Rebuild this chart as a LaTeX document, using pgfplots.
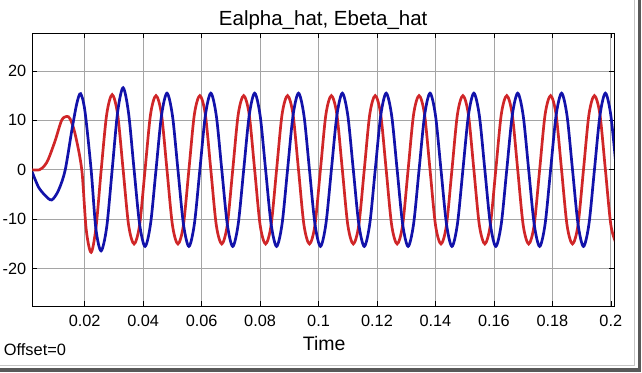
\documentclass[border=0pt]{standalone}
\usepackage{pgfplots}
\pgfplotsset{compat=1.18}
\usepackage{fontspec}
\setmainfont{Liberation Sans}
\definecolor{sred}{RGB}{208,38,40}
\definecolor{sblue}{RGB}{18,18,170}
\definecolor{gridc}{RGB}{165,165,165}
\begin{document}
\begin{tikzpicture}
\fill[white] (0pt,0pt) rectangle (642pt,372pt);
% frame shadow
\draw[gray!45, line width=0.8pt] (634.5pt,372pt) -- (634.5pt,6.5pt) -- (0pt,6.5pt);
\fill[black!65] (637.5pt,0pt) rectangle (641pt,372pt);
\fill[black!65] (0pt,0.5pt) rectangle (641pt,4pt);
\begin{axis}[
  at={(32pt,66pt)}, anchor=south west,
  scale only axis, width=582pt, height=273pt,
  xmin=0.0021, xmax=0.2011, ymin=-27.6, ymax=27.6,
  xtick={0.02,0.04,0.06,0.08,0.1,0.12,0.14,0.16,0.18,0.2},
  xticklabels={0.02,0.04,0.06,0.08,0.1,0.12,0.14,0.16,0.18,0.2},
  ytick={-20,-10,0,10,20},
  yticklabels={-20,-10,0,10,20},
  tick align=inside, major tick length=5pt,
  tick style={black, line width=0.6pt},
  grid=major, major grid style={gridc, line width=0.7pt},
  axis line style={black, line width=0.9pt},
  ticklabel style={font=\fontsize{16.3}{18}\selectfont},
  xticklabel style={inner sep=0pt, anchor=north, yshift=-9pt},
  yticklabel style={inner sep=0pt, anchor=east, xshift=-6pt},
  /pgf/number format/assume math mode=true,
  clip=true,
]
\addplot[sred, line width=2.7pt, smooth] coordinates {
(0.002,0)(0.0045,0)(0.0062,0.8)(0.0076,2.2)(0.0099,5.9)(0.0121,10)(0.0138,10.8)(0.015,10.3)(0.0167,7.3)(0.019,0)(0.0205,-12)(0.0222,-16.7)(0.0239,-11.5)(0.02565,0)(0.027525,11.2)
(0.0294,15.2)(0.031275,11.2)(0.03315,0)(0.035025,-11.2)(0.0369,-15)(0.038775,-11.2)(0.04065,0)(0.042525,11.2)
(0.0444,15)(0.046275,11.2)(0.04815,0)(0.050025,-11.2)(0.0519,-15)(0.053775,-11.2)(0.05565,0)(0.057525,11.2)
(0.0594,15)(0.061275,11.2)(0.06315,0)(0.065025,-11.2)(0.0669,-15)(0.068775,-11.2)(0.07065,0)(0.072525,11.2)
(0.0744,15)(0.076275,11.2)(0.07815,0)(0.080025,-11.2)(0.0819,-15)(0.083775,-11.2)(0.08565,0)(0.087525,11.2)
(0.0894,15)(0.091275,11.2)(0.09315,0)(0.095025,-11.2)(0.0969,-15)(0.098775,-11.2)(0.10065,0)(0.102525,11.2)
(0.1044,15)(0.106275,11.2)(0.10815,0)(0.110025,-11.2)(0.1119,-15)(0.113775,-11.2)(0.11565,0)(0.117525,11.2)
(0.1194,15)(0.121275,11.2)(0.12315,0)(0.125025,-11.2)(0.1269,-15)(0.128775,-11.2)(0.13065,0)(0.132525,11.2)
(0.1344,15)(0.136275,11.2)(0.13815,0)(0.140025,-11.2)(0.1419,-15)(0.143775,-11.2)(0.14565,0)(0.147525,11.2)
(0.1494,15)(0.151275,11.2)(0.15315,0)(0.155025,-11.2)(0.1569,-15)(0.158775,-11.2)(0.16065,0)(0.162525,11.2)
(0.1644,15)(0.166275,11.2)(0.16815,0)(0.170025,-11.2)(0.1719,-15)(0.173775,-11.2)(0.17565,0)(0.177525,11.2)
(0.1794,15)(0.181275,11.2)(0.18315,0)(0.185025,-11.2)(0.1869,-15)(0.188775,-11.2)(0.19065,0)(0.192525,11.2)
(0.1944,15)(0.196275,11.2)(0.19815,0)(0.200025,-11.2)(0.2019,-15)
};
\addplot[sblue, line width=2.7pt, smooth] coordinates {
(0.002,-0.4)(0.0042,-3.5)(0.0065,-5.2)(0.0087,-6.1)(0.011,-4.2)(0.0133,-0.1)(0.0156,8)(0.0173,13.4)(0.0186,15.4)(0.0201,11.8)(0.0222,0)(0.0238,-11.8)(0.0256,-16.4)(0.027525,-11.6)(0.0294,0)(0.031275,11.7)(0.03315,16.6)(0.035025,11.4)(0.0369,0)(0.038775,-10.96)(0.04065,-15.5)(0.042525,-10.96)
(0.0444,0)(0.046275,10.96)(0.04815,15.5)(0.050025,10.96)(0.0519,0)(0.053775,-10.96)(0.05565,-15.5)(0.057525,-10.96)
(0.0594,0)(0.061275,10.96)(0.06315,15.5)(0.065025,10.96)(0.0669,0)(0.068775,-10.96)(0.07065,-15.5)(0.072525,-10.96)
(0.0744,0)(0.076275,10.96)(0.07815,15.5)(0.080025,10.96)(0.0819,0)(0.083775,-10.96)(0.08565,-15.5)(0.087525,-10.96)
(0.0894,0)(0.091275,10.96)(0.09315,15.5)(0.095025,10.96)(0.0969,0)(0.098775,-10.96)(0.10065,-15.5)(0.102525,-10.96)
(0.1044,0)(0.106275,10.96)(0.10815,15.5)(0.110025,10.96)(0.1119,0)(0.113775,-10.96)(0.11565,-15.5)(0.117525,-10.96)
(0.1194,0)(0.121275,10.96)(0.12315,15.5)(0.125025,10.96)(0.1269,0)(0.128775,-10.96)(0.13065,-15.5)(0.132525,-10.96)
(0.1344,0)(0.136275,10.96)(0.13815,15.5)(0.140025,10.96)(0.1419,0)(0.143775,-10.96)(0.14565,-15.5)(0.147525,-10.96)
(0.1494,0)(0.151275,10.96)(0.15315,15.5)(0.155025,10.96)(0.1569,0)(0.158775,-10.96)(0.16065,-15.5)(0.162525,-10.96)
(0.1644,0)(0.166275,10.96)(0.16815,15.5)(0.170025,10.96)(0.1719,0)(0.173775,-10.96)(0.17565,-15.5)(0.177525,-10.96)
(0.1794,0)(0.181275,10.96)(0.18315,15.5)(0.185025,10.96)(0.1869,0)(0.188775,-10.96)(0.19065,-15.5)(0.192525,-10.96)
(0.1944,0)(0.196275,10.96)(0.19815,15.5)(0.200025,10.96)(0.2019,0)
};
\end{axis}
\node[anchor=base, inner sep=0pt, font=\fontsize{20.5}{24}\selectfont] at (323pt,347pt) {Ealpha\_hat, Ebeta\_hat};
\node[anchor=base, inner sep=0pt, font=\fontsize{19.5}{23}\selectfont] at (324pt,22pt) {Time};
\node[anchor=base west, inner sep=0pt, font=\fontsize{16.4}{19}\selectfont] at (3.3pt,17pt) {Offset=0};
\end{tikzpicture}
\end{document}
